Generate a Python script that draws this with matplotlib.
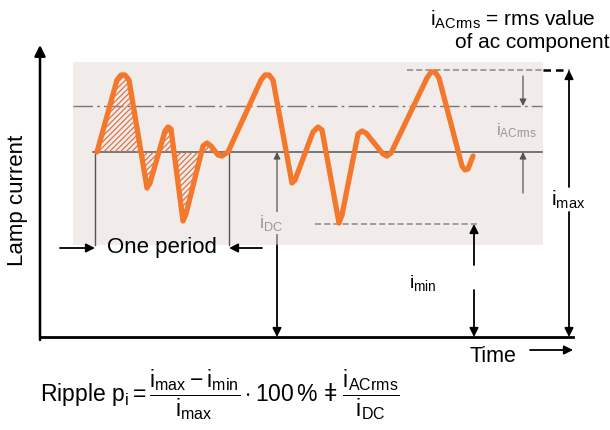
import matplotlib.pyplot as plt
from matplotlib.patches import Rectangle

plt.rcParams['font.family'] = ['Liberation Sans', 'DejaVu Sans']
plt.rcParams['mathtext.fontset'] = 'custom'
plt.rcParams['mathtext.rm'] = 'Liberation Sans'
plt.rcParams['mathtext.it'] = 'Liberation Sans:italic'
plt.rcParams['hatch.linewidth'] = 0.9

# waveform of the lamp current (time, current)
time = [57, 77, 81, 85, 89, 107, 110, 125, 128, 131, 143, 146, 163, 167, 171, 178, 182, 188,
        221, 225, 229, 233, 252, 255, 273, 278, 282, 299, 302, 318, 322, 326, 343, 347, 351,
        387, 391, 395, 399, 422, 425, 428, 433]
current = [185, 257, 262, 262, 257, 149, 154, 206, 210, 208, 116, 123, 191, 194, 191, 182, 181, 185,
           257, 262, 262, 257, 154, 157, 205, 210, 207, 114, 122, 203, 206, 204, 183, 181, 184,
           259, 265, 265, 259, 171, 167, 168, 181]

# characteristic levels
i_dc = 185
i_acrms = 231
i_max = 267
i_min = 113
period = (57, 188)

ORANGE = '#f4782b'
BG = '#f1ecea'

fig = plt.figure(figsize=(6.1, 4.3), dpi=100)
ax = fig.add_axes([0, 0, 1, 1])
ax.set_xlim(-40, 570)
ax.set_ylim(-93, 337)
ax.axis('off')

ax.add_patch(Rectangle((33, 92), 470, 183, facecolor=BG, edgecolor='none', zorder=0))

# level lines
ax.plot([53, 502], [i_dc, i_dc], color='#555555', lw=1.1, zorder=2)
ax.plot([33, 502], [i_acrms, i_acrms], color='#777777', lw=1.0, ls=(0, (14, 3, 2, 3)), zorder=2)
ax.plot([367, 503], [i_max, i_max], color='#888888', lw=1.1, ls=(0, (4, 2)), zorder=2)
ax.plot([503, 529], [i_max, i_max], color='black', lw=1.8, ls=(0, (3, 2)), zorder=2)
ax.plot([275, 438], [i_min, i_min], color='#888888', lw=1.1, ls=(0, (4, 2)), zorder=2)

# hatched area for one period
p_t = [t for t in time if period[0] <= t <= period[1]]
p_i = [c for t, c in zip(time, current) if period[0] <= t <= period[1]]
ax.fill_between(p_t, p_i, i_dc, facecolor='none', edgecolor='#d9764a', hatch='//////', lw=0, zorder=3)

ax.plot(time, current, color=ORANGE, lw=3.8, solid_joinstyle='round', solid_capstyle='round', zorder=4)

# axes with arrow
ax.annotate('', xy=(0, 292), xytext=(0, -3),
            arrowprops=dict(arrowstyle='-|>', lw=1.8, color='black', mutation_scale=16, shrinkA=0, shrinkB=0))
ax.plot([0, 533], [0, 0], color='black', lw=2.0, zorder=5)

arrow_k = dict(arrowstyle='-|>', color='black', lw=1.3, mutation_scale=13, shrinkA=0, shrinkB=0)
arrow_g = dict(arrowstyle='-|>', color='#555555', lw=0.9, mutation_scale=10, shrinkA=0, shrinkB=0)

# i_DC
ax.annotate('', xy=(237, 0), xytext=(237, 92), arrowprops=arrow_k)
ax.annotate('', xy=(237, i_dc), xytext=(237, 92), arrowprops=arrow_g)
ax.text(231, 114, r'$\mathrm{i_{DC}}$', color='#999999', fontsize=13, ha='center', va='center',
        bbox=dict(facecolor=BG, edgecolor='none', pad=1), zorder=6)

# i_min
ax.annotate('', xy=(434, i_min), xytext=(434, 72), arrowprops=arrow_k)
ax.annotate('', xy=(434, 0), xytext=(434, 47), arrowprops=arrow_k)
ax.text(383, 54, r'$\mathrm{i_{min}}$', fontsize=14, ha='center', va='center')

# i_max
ax.annotate('', xy=(529, i_max), xytext=(529, 150), arrowprops=arrow_k)
ax.annotate('', xy=(529, 0), xytext=(529, 125), arrowprops=arrow_k)
ax.text(528, 137, r'$\mathrm{i_{max}}$', fontsize=15, ha='center', va='center')

# i_ACrms
ax.annotate('', xy=(483, i_acrms), xytext=(483, 261), arrowprops=arrow_g)
ax.annotate('', xy=(483, i_dc), xytext=(483, 144), arrowprops=arrow_g)
ax.text(477, 206, r'$\mathrm{i_{ACrms}}$', color='#999999', fontsize=12, ha='center', va='center')

# one period
ax.plot([period[0] - 2, period[0] - 2], [92, i_dc], color='#555555', lw=1.0, zorder=2)
ax.plot([period[1] + 1, period[1] + 1], [92, i_dc], color='#555555', lw=1.0, zorder=2)
ax.annotate('', xy=(period[0] - 2, 89), xytext=(20, 89), arrowprops=arrow_k)
ax.annotate('', xy=(period[1] + 1, 89), xytext=(222, 89), arrowprops=arrow_k)
ax.text(122, 89, 'One period', fontsize=16, ha='center', va='center')

# labels
ax.text(-22, 137, 'Lamp current', fontsize=16, rotation=90, ha='center', va='center')
ax.text(453, -19, 'Time', fontsize=15.5, ha='center', va='center')
ax.annotate('', xy=(533, -13), xytext=(490, -13), arrowprops=arrow_k)

ax.text(390, 317, r'$\mathrm{i_{ACrms}}$ = rms value', fontsize=15, ha='left', va='center')
ax.text(415, 295, 'of ac component', fontsize=15, ha='left', va='center')

ax.text(0, -58, r'$\mathrm{Ripple\ p_i} = \dfrac{\mathrm{i_{max} - i_{min}}}{\mathrm{i_{max}}}\cdot\mathrm{100\,\%}$ ǂ '
        r'$\dfrac{\mathrm{i_{ACrms}}}{\mathrm{i_{DC}}}$', fontsize=16.5, ha='left', va='center')

fig.savefig('out.png', dpi=100)
